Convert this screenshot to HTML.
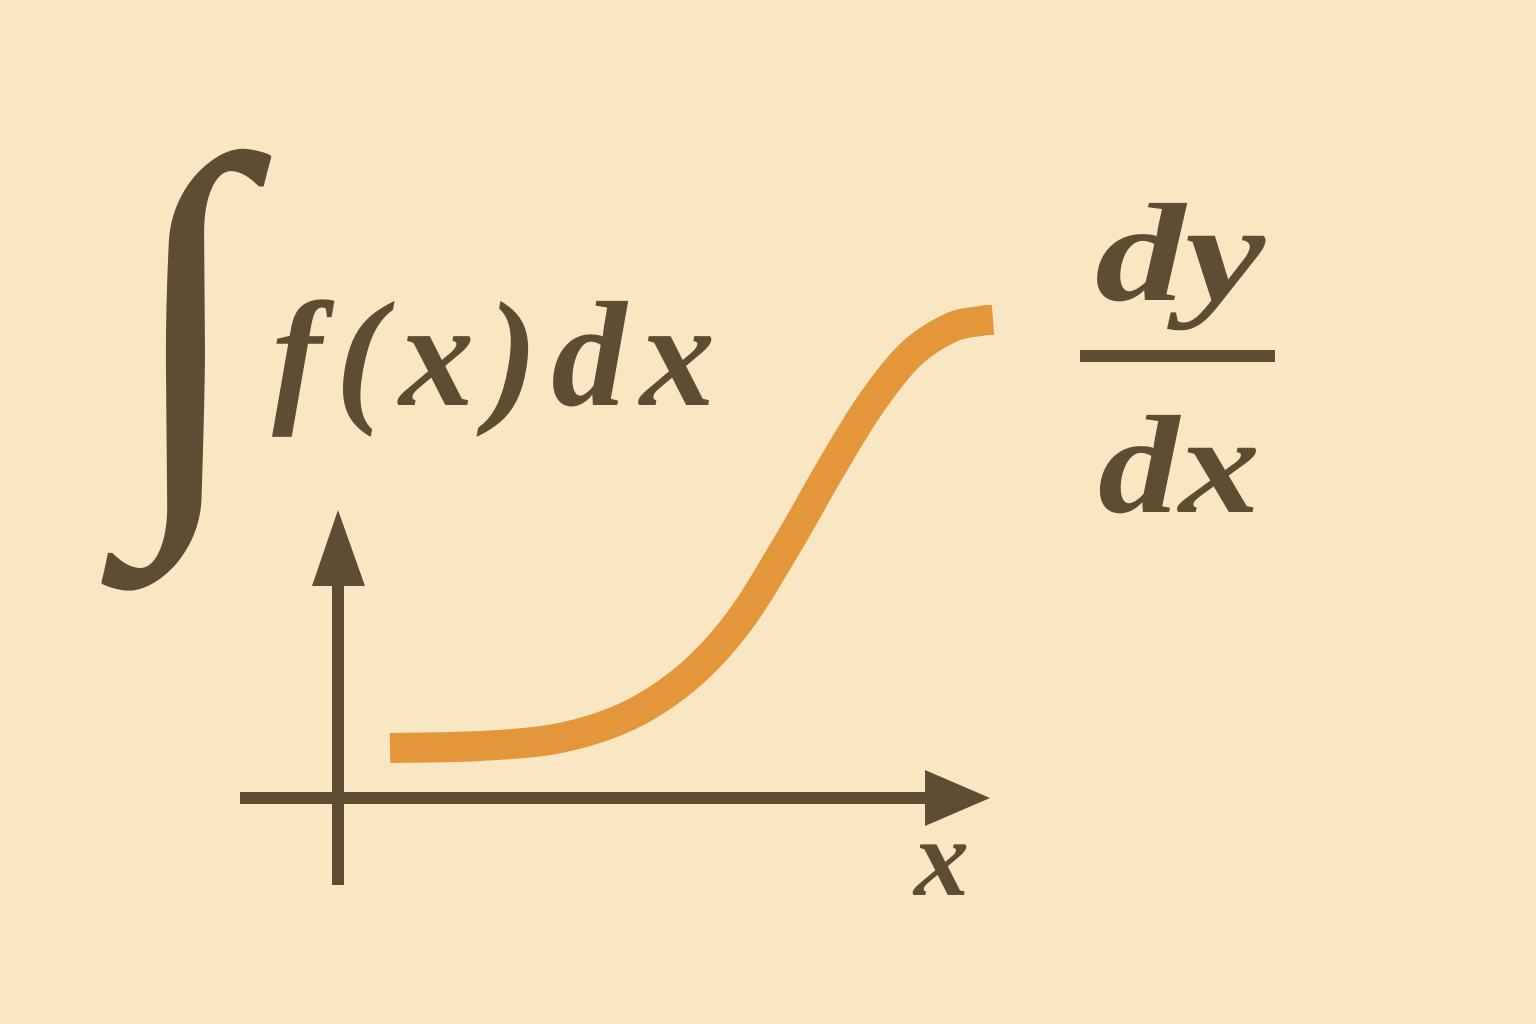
<!DOCTYPE html>
<html><head><meta charset="utf-8"><style>
html,body{margin:0;padding:0;background:#f9e7c4;}
svg{display:block}
</style></head><body>
<svg width="1536" height="1024" viewBox="0 0 1536 1024">
<rect x="0" y="0" width="1536" height="1024" fill="#f9e7c4"/>
<text x="125" y="470" font-family="'Liberation Serif', serif" font-weight="bold" font-size="450" fill="#5e4d33">∫</text>
<text x="272" y="405" font-family="'Liberation Serif', serif" font-style="italic" font-weight="bold" font-size="150" fill="#5e4d33" textLength="443" lengthAdjust="spacing">f(x)dx</text>
<text x="1095" y="300" font-family="'Liberation Serif', serif" font-style="italic" font-weight="bold" font-size="140" fill="#5e4d33" textLength="170" lengthAdjust="spacingAndGlyphs">dy</text>
<rect x="1080" y="350" width="195" height="12" fill="#5e4d33"/>
<text x="1098" y="512" font-family="'Liberation Serif', serif" font-style="italic" font-weight="bold" font-size="140" fill="#5e4d33" textLength="162" lengthAdjust="spacingAndGlyphs">dx</text>
<g>
<rect x="332" y="575" width="12" height="310" fill="#5e4d33"/>
<polygon points="338,510 312,586 365,586" fill="#5e4d33"/>
<rect x="240" y="792" width="695" height="12" fill="#5e4d33"/>
<polygon points="990,798 925,770 925,826" fill="#5e4d33"/>
<text x="914" y="895" font-family="'Liberation Serif', serif" font-style="italic" font-weight="bold" font-size="110" fill="#5e4d33">x</text>
</g>
<path id="curve" d="M390,748" fill="none" stroke="#e3963a" stroke-width="30" stroke-linecap="butt" stroke-linejoin="round"/>
</svg>
<script>
var xs = [0, 90, 170, 240, 300, 350, 400, 440, 480, 520, 560, 590, 603];
var ys = [0, 2, 10, 33, 73, 128, 208, 278, 343, 393, 420, 427, 428];
function sx(v){ return 390 + v; }
function sy(v){ return 748 - v; }
var pts = xs.map(function(x,i){ return [sx(x), sy(ys[i])]; });
var d = 'M' + pts[0][0] + ',' + pts[0][1];
for (var i=0;i<pts.length-1;i++){
  var p0=pts[Math.max(0,i-1)], p1=pts[i], p2=pts[i+1], p3=pts[Math.min(pts.length-1,i+2)];
  var c1=[p1[0]+(p2[0]-p0[0])/6, p1[1]+(p2[1]-p0[1])/6];
  var c2=[p2[0]-(p3[0]-p1[0])/6, p2[1]-(p3[1]-p1[1])/6];
  d += ' C'+c1[0]+','+c1[1]+' '+c2[0]+','+c2[1]+' '+p2[0]+','+p2[1];
}
var curveEl = document.getElementById('curve');
curveEl.setAttribute('d', d);


</script>
</body></html>
